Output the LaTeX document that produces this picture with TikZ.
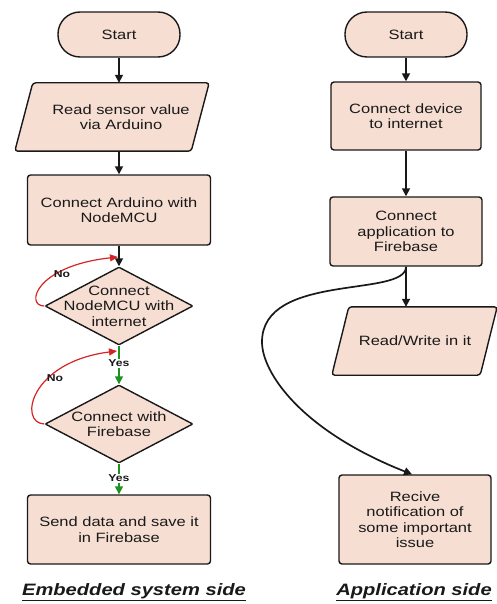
\documentclass[tikz,border=0pt]{standalone}
\usepackage{fontspec}
\setmainfont{Liberation Sans}[FakeStretch=1.22]
\usetikzlibrary{shapes.geometric,arrows.meta}
\definecolor{boxfill}{RGB}{247,222,211}
\definecolor{noRed}{RGB}{215,35,35}
\definecolor{yesGreen}{RGB}{30,145,30}
\definecolor{edge}{RGB}{25,25,25}
\begin{document}
\begin{tikzpicture}[x=1pt,y=-1pt,
  font=\fontsize{13.5}{15.5}\selectfont,
  box/.style={draw=edge, fill=boxfill, rounded corners=3pt, align=center, line width=1.4pt, inner sep=0pt, text=black!90},
  term/.style={box, rounded corners=22pt, minimum width=122pt, minimum height=45pt},
  paratext/.style={align=center, inner sep=0pt, text=black!90, minimum height=68pt},
  parapath/.style={draw=edge, fill=boxfill, rounded corners=3pt, line width=1.4pt},
  dia/.style={box, diamond, minimum width=148pt, minimum height=78pt, rounded corners=1pt},
  txt/.style={align=center, inner sep=0pt, text=black!90},
  arr/.style={draw=edge, line width=1.7pt, -{Triangle[length=8pt,width=8pt]}},
  garr/.style={draw=yesGreen, line width=1.4pt, -{Triangle[length=8pt,width=8pt]}},
  rarr/.style={draw=noRed, line width=1.2pt, -{Triangle[length=8pt,width=7pt]}},
  lab/.style={font=\fontsize{10}{12}\selectfont\bfseries, text=black!90, inner sep=1pt},
  yeslab/.style={lab, fill=white},
  title/.style={font=\fontsize{16.5}{19}\selectfont\bfseries\itshape, text=black!90}
]
\useasboundingbox (0,0) rectangle (497,604);

% left column
\node[term] (s1) at (119,34.5) {Start};
\node[paratext, minimum width=176pt] (rs) at (121,117) {};
\node[box, minimum width=183pt, minimum height=70pt] (r1) at (119,210) {Connect Arduino with\\NodeMCU};
\node[dia] (d1) at (119,306) {};
\node[txt] (d1t) at (d1.center) {Connect\\NodeMCU with\\internet};
\node[dia] (d2) at (119,424) {};
\node[txt] (d2t) at (d2.center) {Connect with\\Firebase};
\node[box, minimum width=183pt, minimum height=69pt] (r2) at (119,529.5) {Send data and save it\\in Firebase};

% right column
\node[term] (s2) at (406,34.5) {Start};
\node[box, minimum width=150pt, minimum height=68pt] (cd) at (406,116) {Connect device\\to internet};
\node[box, minimum width=152pt, minimum height=69pt] (cf) at (406,231.5) {Connect\\application to\\Firebase};
\node[paratext, minimum width=148pt] (rw) at (415,341) {};
\node[box, minimum width=152pt, minimum height=89pt] (rn) at (415,519.5) {Recive\\notification of\\some important\\issue};

% parallelogram outlines, then their texts on top
\draw[parapath] (rs.north west) -- (rs.north east) -- ([xshift=-18pt]rs.south east) -- ([xshift=-18pt]rs.south west) -- cycle;
\node[txt] (rst) at (rs.center) {Read sensor value\\via Arduino};
\draw[parapath] ([xshift=8pt]rw.north west) -- ([xshift=8pt]rw.north east) -- ([xshift=-9pt]rw.south east) -- ([xshift=-9pt]rw.south west) -- cycle;
\node[txt] (rwt) at (rw.center) {Read/Write in it};

% titles
\node[title] (t1) at (134,592) {\underline{Embedded system side}};
\node[title] (t2) at (414,592) {\underline{Application side}};

% left connectors
\draw[arr] (s1.south) -- (s1.south |- rs.north);
\draw[arr] (r1.north |- rs.south) -- (r1.north);
\draw[arr] (r1.south) -- (d1.north);
\draw[garr] (d1.south) -- (d2.north) node[yeslab, pos=0.46] (y1) {Yes};
\draw[garr] (d2.south) -- (r2.north) node[yeslab, pos=0.47] (y2) {Yes};

\coordinate (n1) at (118,257);
\draw[rarr] (d1.west) .. controls (25,306) and (35,266) .. (n1);
\node[lab] (no1) at (62,274) {No};
\coordinate (n2) at (117,351);
\draw[rarr] (d2.west) .. controls (18,423) and (30,362) .. (n2);
\node[lab] (no2) at (55,378) {No};

% right connectors
\draw[arr] (s2.south) -- (cd.north);
\draw[arr] (cd.south) -- (cf.north);
\draw[arr] (cf.south) -- (cf.south |- rw.north);
\coordinate (bend) at (262,342);
\coordinate (rnin) at ([xshift=-3pt]rn.north);
\draw[arr] (cf.south) .. controls (406,298) and (262,272) .. (bend) .. controls (262,372) and (300,430) .. (rnin);
\end{tikzpicture}
\end{document}
